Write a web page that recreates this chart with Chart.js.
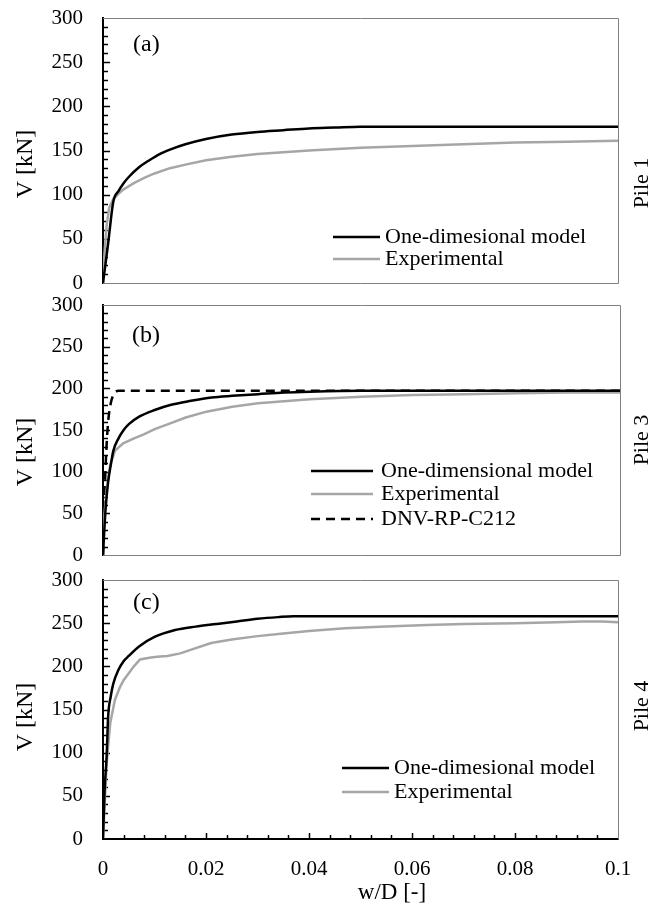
<!DOCTYPE html>
<html>
<head>
<meta charset="utf-8">
<script src="https://cdn.jsdelivr.net/npm/chart.js@4.4.1/dist/chart.umd.min.js"></script>
<style>
  body { margin: 0; background: #fff; }
  canvas { position: absolute; left: 0; }
</style>
</head>
<body>
<canvas id="pile1" style="top:0px" width="668" height="294"></canvas>
<canvas id="pile3" style="top:294px" width="668" height="276"></canvas>
<canvas id="pile4" style="top:570px" width="668" height="336"></canvas>
<script>
// ---- data (w/D [-], V [kN]) ----
const yTicks = [0, 50, 100, 150, 200, 250, 300];
const xTicks = [0, 0.02, 0.04, 0.06, 0.08, 0.1];

// (a) Pile 1
const p1ModelW = [0, 0.001, 0.002, 0.003, 0.004, 0.005, 0.007, 0.009, 0.011, 0.013, 0.016, 0.02, 0.025, 0.03, 0.035, 0.04, 0.045, 0.05, 0.1];
const p1ModelV = [0, 45, 92, 104, 113, 120, 131, 139, 146, 151, 157, 163, 168, 171, 173, 175, 176, 177, 177];
const p1ExpW = [0, 0.0003, 0.0007, 0.0012, 0.002, 0.003, 0.004, 0.006, 0.008, 0.01, 0.013, 0.016, 0.02, 0.025, 0.03, 0.04, 0.05, 0.06, 0.07, 0.08, 0.09, 0.1];
const p1ExpV = [0, 35, 65, 85, 95, 101, 106, 113, 119, 124, 130, 134, 139, 143, 146, 150, 153, 155, 157, 159, 160, 161];

// (b) Pile 3
const p3ModelW = [0, 0.0005, 0.001, 0.0015, 0.002, 0.003, 0.004, 0.005, 0.007, 0.01, 0.013, 0.017, 0.021, 0.025, 0.03, 0.035, 0.04, 0.05, 0.1];
const p3ModelV = [0, 55, 88, 108, 125, 140, 150, 157, 166, 174, 180, 185, 189, 191, 193, 195, 196, 197, 197];
const p3ExpW = [0, 0.0003, 0.0007, 0.0014, 0.0023, 0.0039, 0.006, 0.008, 0.01, 0.013, 0.016, 0.02, 0.025, 0.03, 0.04, 0.05, 0.06, 0.07, 0.08, 0.09, 0.1];
const p3ExpV = [25, 50, 78, 108, 125, 134, 140, 145, 151, 158, 165, 172, 178, 182, 187, 190, 192, 193, 194, 195, 195];
const p3DnvW = [0, 0.0003, 0.0006, 0.001, 0.0015, 0.002, 0.003, 0.1];
const p3DnvV = [0, 70, 120, 160, 182, 192, 197, 197];

// (c) Pile 4
const p4ModelW = [0, 0.0003, 0.0007, 0.001, 0.0015, 0.002, 0.003, 0.004, 0.005, 0.007, 0.01, 0.014, 0.018, 0.022, 0.026, 0.03, 0.034, 0.037, 0.1];
const p4ModelV = [0, 55, 95, 142, 165, 180, 196, 206, 212, 223, 234, 242, 246, 249, 252, 255, 257, 258, 258];
const p4ExpW = [0, 0.0003, 0.0007, 0.0014, 0.0023, 0.0033, 0.004, 0.006, 0.0072, 0.009, 0.0105, 0.0125, 0.015, 0.017, 0.021, 0.025, 0.03, 0.035, 0.04, 0.047, 0.055, 0.063, 0.07, 0.08, 0.088, 0.093, 0.097, 0.1];
const p4ExpV = [0, 37, 88, 134, 161, 176, 184, 200, 208, 210, 211, 212, 215, 219, 227, 231, 235, 238, 241, 244, 246, 248, 249, 250, 251, 252, 252, 251];

const FONT = "'Liberation Serif', 'Times New Roman', serif";
const GREY = '#a6a6a6';

function pts(w, v) { return w.map((x, i) => ({ x: x, y: v[i] })); }

function model(label, w, v) {
  return { label, data: pts(w, v), borderColor: '#000', borderWidth: 2.5, pointRadius: 0, cubicInterpolationMode: 'monotone' };
}
function experimental(w, v) {
  return { label: 'Experimental', data: pts(w, v), borderColor: GREY, borderWidth: 2.5, pointRadius: 0, tension: 0 };
}

// frame, inward tick marks, inside legend and side titles
const decor = {
  id: 'decor',
  beforeDatasetsDraw(chart, args, o) {
    const { ctx, chartArea: a, scales } = chart;
    ctx.save();
    ctx.strokeStyle = '#808080';
    ctx.lineWidth = 1;
    ctx.beginPath();
    ctx.moveTo(a.left, a.top + 0.5);
    ctx.lineTo(a.right + 0.5, a.top + 0.5);
    ctx.lineTo(a.right + 0.5, a.bottom + 0.5);
    if (!o.xAxis) ctx.lineTo(a.left, a.bottom + 0.5);
    ctx.stroke();

    ctx.strokeStyle = '#000';
    ctx.lineWidth = 1.5;
    for (let v = 10; v < 300; v += 10) {
      const py = Math.round(scales.y.getPixelForValue(v)) + 0.5;
      ctx.beginPath();
      ctx.moveTo(a.left, py);
      ctx.lineTo(a.left + (v % 50 ? 5 : 7), py);
      ctx.stroke();
    }
    if (o.xAxis) {
      for (let k = 1; k < 25; k++) {
        const px = Math.round(scales.x.getPixelForValue(k * 0.004)) + 0.5;
        ctx.beginPath();
        ctx.moveTo(px, a.bottom);
        ctx.lineTo(px, a.bottom - (k % 5 ? 4 : 6));
        ctx.stroke();
      }
    }
    ctx.restore();
  },
  afterDatasetsDraw(chart, args, o) {
    const { ctx } = chart;
    ctx.save();
    ctx.fillStyle = '#000';
    ctx.textBaseline = 'middle';

    ctx.font = '24px ' + FONT;
    ctx.textAlign = 'left';
    ctx.fillText(o.tag, o.tagX, o.tagY);

    // legend
    ctx.font = '22px ' + FONT;
    chart.data.datasets.forEach((ds, i) => {
      const y = o.legendRows[i];
      ctx.strokeStyle = ds.borderColor;
      ctx.lineWidth = ds.borderWidth;
      ctx.setLineDash(ds.borderDash || []);
      ctx.beginPath();
      ctx.moveTo(o.legendX, y);
      ctx.lineTo(o.legendX + o.legendLen, y);
      ctx.stroke();
      ctx.setLineDash([]);
      ctx.fillText(ds.label, o.legendX + o.legendLen + o.legendGap, y);
    });

    // rotated titles
    ctx.textAlign = 'center';
    [[o.yTitle, 26, o.yTitleY, 24], [o.side, 642, o.sideY, 22]].forEach(([t, x, y, size]) => {
      ctx.save();
      ctx.font = size + 'px ' + FONT;
      ctx.translate(x, y);
      ctx.rotate(-Math.PI / 2);
      ctx.fillText(t, 0, 0);
      ctx.restore();
    });
    if (o.xAxis) {
      ctx.font = '23px ' + FONT;
      ctx.fillText('w/D [-]', 392, o.xTitleY);
    }
    ctx.restore();
  }
};

function makeChart(id, datasets, o) {
  return new Chart(document.getElementById(id), {
    type: 'line',
    data: { datasets },
    options: {
      responsive: false,
      animation: false,
      layout: { padding: o.padding },
      plugins: { legend: { display: false }, tooltip: { enabled: false }, decor: o },
      scales: {
        x: {
          type: 'linear', min: 0, max: 0.1,
          display: o.xAxis,
          grid: { display: false },
          border: { color: '#000', width: 2 },
          ticks: {
            stepSize: 0.02, padding: 10, color: '#000', font: { family: FONT, size: 21 },
            maxRotation: 0,
            callback: v => String(Number(v.toFixed(2)))
          },
          afterBuildTicks: s => { s.ticks = xTicks.map(v => ({ value: v })); },
          afterFit: s => { s.height = o.xHeight || 0; s.paddingLeft = 0; s.paddingRight = 0; }
        },
        y: {
          min: 0, max: 300,
          grid: { display: false },
          border: { color: '#000', width: 2 },
          ticks: { stepSize: 50, padding: 12, color: '#000', font: { family: FONT, size: 21 } },
          afterBuildTicks: s => { s.ticks = yTicks.map(v => ({ value: v })); },
          afterFit: s => { s.width = 103; s.paddingTop = 0; s.paddingBottom = 0; }
        }
      }
    },
    plugins: [decor]
  });
}

makeChart('pile1', [
  model('One-dimesional model', p1ModelW, p1ModelV),
  experimental(p1ExpW, p1ExpV)
], {
  padding: { left: 0, right: 50, top: 18, bottom: 11 }, xAxis: false,
  tag: '(a)', tagX: 133, tagY: 45,
  legendX: 333, legendLen: 47, legendGap: 5, legendRows: [237, 259],
  yTitle: 'V [kN]', yTitleY: 164, side: 'Pile 1', sideY: 183
});

makeChart('pile3', [
  model('One-dimensional model', p3ModelW, p3ModelV),
  experimental(p3ExpW, p3ExpV),
  { label: 'DNV-RP-C212', data: pts(p3DnvW, p3DnvV), borderColor: '#000', borderWidth: 2.5, borderDash: [9, 6], pointRadius: 0, cubicInterpolationMode: 'monotone' }
], {
  padding: { left: 0, right: 48, top: 11, bottom: 15 }, xAxis: false,
  tag: '(b)', tagX: 132, tagY: 42,
  legendX: 311, legendLen: 62, legendGap: 8, legendRows: [177, 200, 225],
  yTitle: 'V [kN]', yTitleY: 158, side: 'Pile 3', sideY: 146
});

makeChart('pile4', [
  model('One-dimesional model', p4ModelW, p4ModelV),
  experimental(p4ExpW, p4ExpV)
], {
  padding: { left: 0, right: 50, top: 10, bottom: 0 }, xAxis: true, xHeight: 67, xTitleY: 323,
  tag: '(c)', tagX: 133, tagY: 33,
  legendX: 342, legendLen: 47, legendGap: 5, legendRows: [198, 222],
  yTitle: 'V [kN]', yTitleY: 147, side: 'Pile 4', sideY: 136
});
</script>
</body>
</html>
